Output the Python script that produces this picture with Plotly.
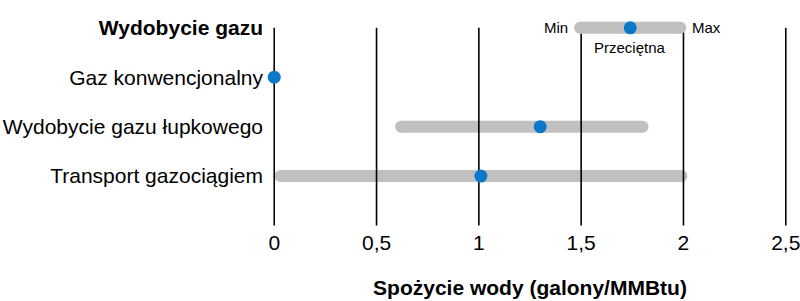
import plotly.graph_objects as go

# ---- data ----
categories = ["Gaz konwencjonalny", "Wydobycie gazu łupkowego", "Transport gazociągiem"]
header = "Wydobycie gazu"
range_min = [None, 0.62, 0.03]
range_max = [None, 1.80, 1.99]
average = [0.0, 1.30, 1.01]

x_ticks = [0, 0.5, 1, 1.5, 2, 2.5]
x_tick_labels = ["0", "0,5", "1", "1,5", "2", "2,5"]
x_title = "Spożycie wody (galony/MMBtu)"

legend_min = 1.495
legend_max = 1.985
legend_avg = 1.74
legend_labels = ["Min", "Max", "Przeciętna"]

GRAY = "#c0c0c0"
BLUE = "#0b78c9"
FONT = "Liberation Sans, Arial, sans-serif"

rows = [1, 2, 3]  # header on row 0
fig = go.Figure()

# gray ranges (with round caps via markers)
for r, lo, hi in zip(rows, range_min, range_max):
    if lo is None:
        continue
    fig.add_trace(go.Scatter(x=[lo, hi], y=[r, r], mode="lines+markers",
                             line=dict(color=GRAY, width=12),
                             marker=dict(color=GRAY, size=12, line=dict(width=0)),
                             hoverinfo="skip", showlegend=False))

# gridlines (drawn above the ranges, below the dots)
gx, gy = [], []
for t in x_ticks:
    gx += [t, t, None]
    gy += [0, 4, None]
fig.add_trace(go.Scatter(x=gx, y=gy, mode="lines",
                         line=dict(color="black", width=1.6),
                         hoverinfo="skip", showlegend=False))

# averages
fig.add_trace(go.Scatter(x=average, y=rows, mode="markers",
                         marker=dict(color=BLUE, size=13, line=dict(width=0)),
                         showlegend=False))

# legend key
fig.add_trace(go.Scatter(x=[legend_min, legend_max], y=[0, 0], mode="lines+markers",
                         line=dict(color=GRAY, width=12),
                         marker=dict(color=GRAY, size=12, line=dict(width=0)),
                         hoverinfo="skip", showlegend=False))
fig.add_trace(go.Scatter(x=[legend_avg], y=[0], mode="markers",
                         marker=dict(color=BLUE, size=13, line=dict(width=0)),
                         hoverinfo="skip", showlegend=False))

fig.add_annotation(x=legend_min, y=0, text=legend_labels[0], showarrow=False,
                   xanchor="right", xshift=-10, font=dict(size=15, color="black"))
fig.add_annotation(x=legend_max, y=0, text=legend_labels[1], showarrow=False,
                   xanchor="left", xshift=10, font=dict(size=15, color="black"))
fig.add_annotation(x=legend_avg, y=0, text=legend_labels[2], showarrow=False,
                   yanchor="top", yshift=-9, font=dict(size=15, color="black"))

fig.update_layout(
    width=800, height=301,
    margin=dict(l=264, r=4, t=8, b=73),
    paper_bgcolor="white", plot_bgcolor="white",
    font=dict(family=FONT, size=21, color="black"),
    xaxis=dict(range=[-0.05, 2.55], tickvals=x_ticks, ticktext=x_tick_labels,
               showgrid=False, zeroline=False, showline=False, ticks="",
               ticklabeloverflow="allow", automargin=False,
               title=dict(text="<b>" + x_title + "</b>", standoff=27,
                          font=dict(size=21))),
    yaxis=dict(range=[4.05, -0.4], tickvals=[0] + rows,
               ticktext=["<b>" + header + "</b>"] + categories,
               showgrid=False, zeroline=False, showline=False, ticks="",
               automargin=False),
)

fig.write_html("out.html")
